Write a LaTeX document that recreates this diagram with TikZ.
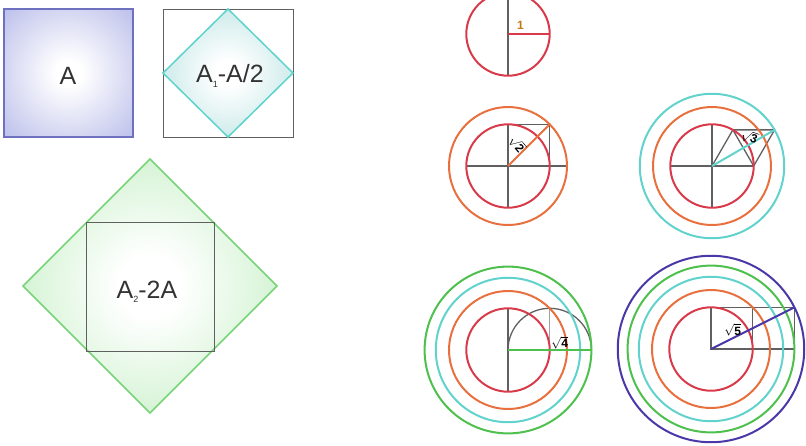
\documentclass[tikz,border=0pt]{standalone}
\usepackage{fontspec}
\setmainfont{Liberation Sans}
\definecolor{lav}{HTML}{AEB2E6}
\definecolor{lavline}{HTML}{6E70C0}
\definecolor{cyfill}{HTML}{A6DADA}
\definecolor{cyline}{HTML}{5CD4CC}
\definecolor{grfill}{HTML}{ACE8AC}
\definecolor{grline}{HTML}{78D478}
\definecolor{cred}{HTML}{D83A4A}
\definecolor{corange}{HTML}{E8703E}
\definecolor{ccyan}{HTML}{62D2CC}
\definecolor{cgreen}{HTML}{4EC04E}
\definecolor{cblue}{HTML}{4A38A8}
\definecolor{gline}{HTML}{606060}
\definecolor{txt}{HTML}{333333}
\definecolor{onecol}{HTML}{C07818}
\pgfdeclareradialshading{lavshade}{\pgfpoint{0bp}{0bp}}{color(0bp)=(white); color(5bp)=(white); color(42bp)=(lav); color(100bp)=(lav)}
\pgfdeclareradialshading{cyshade}{\pgfpoint{0bp}{0bp}}{color(0bp)=(white); color(5bp)=(white); color(42bp)=(cyfill); color(100bp)=(cyfill)}
\pgfdeclareradialshading{grshade}{\pgfpoint{0bp}{0bp}}{color(0bp)=(white); color(6bp)=(white); color(44bp)=(grfill); color(100bp)=(grfill)}
\newcommand{\subnum}[1]{\raisebox{-0.18em}{\fontsize{9}{9}\selectfont #1}}
\begin{document}
\begin{tikzpicture}[x=1pt,y=-1pt,
  bigtxt/.style={text=txt,font=\fontsize{25}{28}\selectfont,inner sep=0pt},
  ring/.style={line width=2pt},
  gl/.style={draw=gline,line width=1.3pt},
  rootlbl/.style={font=\fontsize{12}{12}\selectfont\bfseries,inner sep=0.5pt,text=black},
]
\useasboundingbox (0,0) rectangle (806,445);
\clip (0,0) rectangle (806,445);
% square A
\path[draw=lavline,line width=1.5pt,shade,shading=lavshade] (4,9) rectangle (133,137);
\node[bigtxt] (tA) at (68,76) {A};
% square with diamond A1
\draw[draw=gline,line width=1pt] (163,9) rectangle (293,137);
\path[draw=cyline,line width=1.5pt,shade,shading=cyshade] (228,9) -- (293,73) -- (228,137) -- (163,73) -- cycle;
\node[bigtxt] (tA1) at (230,76) {A\subnum{1}-A/2};
% big diamond A2
\path[draw=grline,line width=1.5pt,shade,shading=grshade] (150,159) -- (277,286) -- (150,413) -- (23,286) -- cycle;
\draw[draw=gline,line width=1pt] (86,222) rectangle (214,351);
\node[bigtxt] (tA2) at (147,292) {A\subnum{2}-2A};
% circle 1
\begin{scope}[shift={(508,34)},x=41.7pt,y=41.7pt]
  \draw[gl] (0,1.2) -- (0,-1);
  \draw[cred,ring] (0,0) circle[radius=1];
  \draw[cred,line width=2pt] (0,0) -- (1,0);
  \node[font=\fontsize{12}{12}\selectfont\bfseries,text=onecol,inner sep=0pt] (one) at (0.3,0.2) {1};
\end{scope}
% circle 2
\begin{scope}[shift={(508,166)},x=41.7pt,y=41.7pt]
  \draw[gl] (-1,0) -- (1.414,0);
  \draw[gl] (0,1) -- (0,-1);
  \draw[gl] (0,1) -- (1,1) -- (1,0);
  \draw[cred,ring] (0,0) circle[radius=1];
  \draw[corange,ring] (0,0) circle[radius=1.414];
  \draw[corange,line width=2pt] (0,0) -- (1,1);
  \node[rootlbl,rotate=-50] (r2) at (0.22,0.52) {$\sqrt{\mbox{\bfseries 2}}$};
\end{scope}
% circle 3
\begin{scope}[shift={(712,166)},x=41.7pt,y=41.7pt]
  \draw[gl] (-1,0) -- (1,0);
  \draw[gl] (0,1) -- (0,-1);
  \draw[gl,line join=round] (0,0) -- (0.5,0.866) -- (1,0) -- (1.5,0.866) -- (0.5,0.866);
  \draw[cred,ring] (0,0) circle[radius=1];
  \draw[corange,ring] (0,0) circle[radius=1.414];
  \draw[ccyan,ring] (0,0) circle[radius=1.732];
  \draw[ccyan,line width=2pt] (0,0) -- (1.5,0.866);
  \node[rootlbl,rotate=-20] (r3) at (0.9,0.7) {$\sqrt{\mbox{\bfseries 3}}$};
\end{scope}
% circle 4
\begin{scope}[shift={(508,350)},x=41.7pt,y=41.7pt]
  \draw[gl] (0,1) -- (0,-1);
  \draw[draw=gline!60,line width=1pt] (1,0) -- (1,1);
  \draw[gl] (0,0) arc[start angle=180,end angle=0,radius=1];
  \draw[cred,ring] (0,0) circle[radius=1];
  \draw[corange,ring] (0,0) circle[radius=1.414];
  \draw[ccyan,ring] (0,0) circle[radius=1.732];
  \draw[cgreen,ring] (0,0) circle[radius=2];
  \draw[cgreen,line width=2.2pt] (0,0) -- (2,0);
  \node[rootlbl] (r4) at (1.24,0.17) {$\sqrt{\mbox{\bfseries 4}}$};
\end{scope}
% circle 5
\begin{scope}[shift={(711,349)},x=41.7pt,y=41.7pt]
  \draw[gl] (0,0) rectangle (1,1);
  \draw[gl] (1,0) rectangle (2,1);
  \draw[cred,ring] (0,0) circle[radius=1];
  \draw[corange,ring] (0,0) circle[radius=1.414];
  \draw[ccyan,ring] (0,0) circle[radius=1.732];
  \draw[cgreen,ring] (0,0) circle[radius=2];
  \draw[cblue,ring] (0,0) circle[radius=2.236];
  \draw[cblue,line width=2pt] (0,0) -- (2,1);
  \node[rootlbl] (r5) at (0.52,0.45) {$\sqrt{\mbox{\bfseries 5}}$};
\end{scope}
\end{tikzpicture}
\end{document}
